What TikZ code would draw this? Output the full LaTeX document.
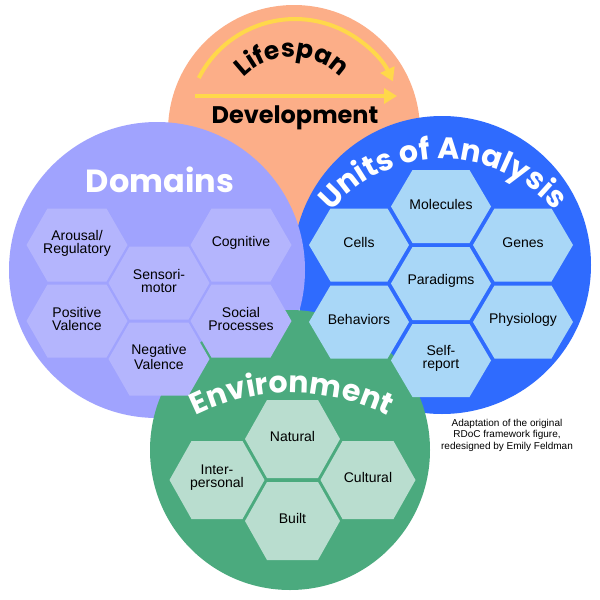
\documentclass[tikz,border=0pt]{standalone}
\usepackage{fontspec}
\setmainfont{Liberation Sans}
\newfontfamily\titlef{Poppins}
\usetikzlibrary{decorations.text,arrows.meta}
\definecolor{orangec}{HTML}{FCAE88}
\definecolor{purpc}{HTML}{A0A3FE}
\definecolor{purphex}{HTML}{B4B5FD}
\definecolor{bluec}{HTML}{2F6BFE}
\definecolor{bluehex}{HTML}{A9D7F7}
\definecolor{greenc}{HTML}{4BAA7E}
\definecolor{greenhex}{HTML}{B9DDCF}
\definecolor{yell}{HTML}{FFD84A}
% hexagon: fill colour, cx, cy (image y), half width, half top edge, half height
\newcommand\myhex[6]{%
  \fill[#1] ({#2-#4},{-#3}) -- ({#2-#5},{-#3+#6}) -- ({#2+#5},{-#3+#6}) --
  ({#2+#4},{-#3}) -- ({#2+#5},{-#3-#6}) -- ({#2-#5},{-#3-#6}) -- cycle;}
\tikzset{
  lbl/.style={font=\fontsize{14}{13}\selectfont, align=center, inner sep=0pt, text=black},
  bigtitle/.style={font=\titlef\bfseries\fontsize{32}{32}\selectfont, inner sep=0pt, anchor=base},
  yarrow/.style={draw=yell, line width=4pt, -{Triangle[length=13pt,width=15pt]}},
  note/.style={font=\fontsize{10}{11.5}\selectfont, align=center, inner sep=0pt}
}
\begin{document}
\begin{tikzpicture}[x=1pt,y=1pt]
\fill[white] (0,0) rectangle (600,-600);
\useasboundingbox (0,0) rectangle (600,-600);
% background circles
\fill[orangec] (294,-131) circle (126);
\fill[bluec] (442,-265) circle (149);
\fill[purpc] (157,-270) circle (148);
\fill[greenc] (290,-450) circle (140);
% Lifespan arrows
\draw[yarrow] (198.8,-78) arc (153:25:108);
\coordinate (ls) at (195,-96);
\coordinate (le) at (397,-96);
\draw[yarrow] (ls) -- (le);
\path[decorate, decoration={text along path, text align=center,
  text={|\titlef\bfseries\fontsize{25}{25}\selectfont|Lifespan}}]
  (224,-125) arc (180:0:68);
\node[bigtitle, font=\titlef\bfseries\fontsize{24}{24}\selectfont] (dev) at (295,-123) {Development};
% Domains hexagons
\myhex{purphex}{77}{245}{50.5}{29.5}{36.5}
\myhex{purphex}{241}{245}{50.5}{29.5}{36.5}
\myhex{purphex}{159}{283}{50.5}{29.5}{36.5}
\myhex{purphex}{77}{321}{50.5}{29.5}{36.5}
\myhex{purphex}{241}{321}{50.5}{29.5}{36.5}
\myhex{purphex}{159}{359}{50.5}{29.5}{36.5}
\node[lbl] (arousal) at (77,-243) {Arousal/\\Regulatory};
\node[lbl] (cognitive) at (241,-243) {Cognitive};
\node[lbl] (sensori) at (159,-281) {Sensori-\\motor};
\node[lbl] (positive) at (77,-319) {Positive\\Valence};
\node[lbl] (social) at (241,-319) {Social\\Processes};
\node[lbl] (negative) at (159,-357) {Negative\\Valence};
% Units of analysis hexagons
\myhex{bluehex}{441}{206.5}{50}{28.5}{36.5}
\myhex{bluehex}{359}{245}{50}{28.5}{36.5}
\myhex{bluehex}{523}{245}{50}{28.5}{36.5}
\myhex{bluehex}{441}{283.5}{50}{28.5}{36.5}
\myhex{bluehex}{359}{322}{50}{28.5}{36.5}
\myhex{bluehex}{523}{322}{50}{28.5}{36.5}
\myhex{bluehex}{441}{360.5}{50}{28.5}{36.5}
\node[lbl] (molecules) at (441,-204) {Molecules};
\node[lbl] (cells) at (359,-242.5) {Cells};
\node[lbl] (genes) at (523,-242.5) {Genes};
\node[lbl] (paradigms) at (441,-281) {Paradigms};
\node[lbl] (behaviors) at (359,-319.5) {Behaviors};
\node[lbl] (physiology) at (523,-319.5) {Physiology};
\node[lbl] (selfreport) at (441,-358) {Self-\\report};
% Environment hexagons
\myhex{greenhex}{292.5}{439}{47.5}{25.5}{39}
\myhex{greenhex}{217}{480}{47.5}{25.5}{39}
\myhex{greenhex}{368}{480}{47.5}{25.5}{39}
\myhex{greenhex}{292.5}{521}{47.5}{25.5}{39}
\node[lbl] (natural) at (292.5,-436.5) {Natural};
\node[lbl] (interpersonal) at (217,-477.5) {Inter-\\personal};
\node[lbl] (cultural) at (368,-477.5) {Cultural};
\node[lbl] (built) at (292.5,-518.5) {Built};
% titles
\node[bigtitle, text=white] (domains) at (160,-192) {Domains};
\path[decorate, decoration={text along path, text align=center,
  text={|\titlef\bfseries\fontsize{30}{30}\selectfont\color{white}|Units of Analysis}}]
  (298,-304) arc (180:0:145);
\path[decorate, decoration={text along path, text align=center,
  text={|\titlef\bfseries\fontsize{30}{30}\selectfont\color{white}|Environment}}]
  (77,-608) arc (180:0:215);
% note
\node[note] (credit) at (507,-435) {Adaptation of the original\\RDoC framework figure,\\redesigned by Emily Feldman};
\end{tikzpicture}
\end{document}
